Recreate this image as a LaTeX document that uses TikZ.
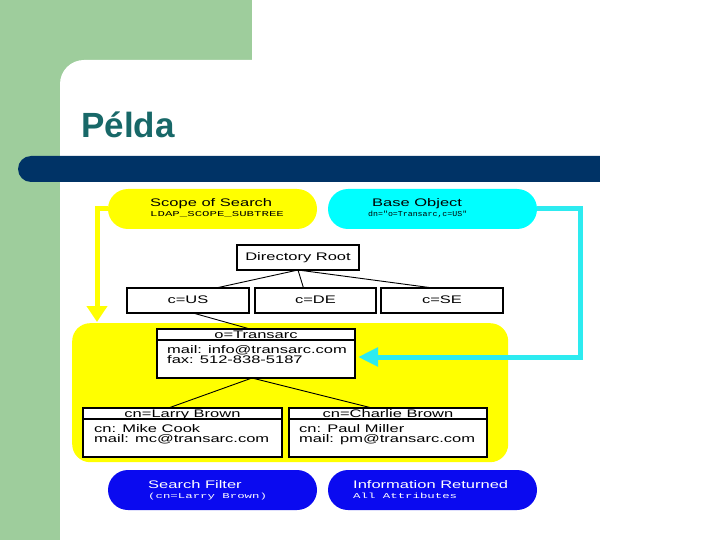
\documentclass[tikz,border=0pt]{standalone}
\usepackage{fontspec}
\setmainfont{Liberation Sans}
\newfontfamily\wsans[FakeStretch=1.5]{Liberation Sans}
\newfontfamily\wmono[FakeStretch=1.65]{Liberation Mono}
\newfontfamily\dnmono[FakeStretch=1.1]{Liberation Mono}
\usetikzlibrary{arrows.meta,calc}
\definecolor{bggreen}{RGB}{158,205,156}
\definecolor{barblue}{RGB}{0,51,102}
\definecolor{titleteal}{RGB}{24,104,104}
\definecolor{pillyellow}{RGB}{255,255,0}
\definecolor{pillcyan}{RGB}{0,255,255}
\definecolor{linecyan}{RGB}{45,235,240}
\definecolor{pillblue}{RGB}{10,10,240}
\begin{document}
\begin{tikzpicture}[x=1pt,y=-1pt,
  pill/.style={rounded corners=20pt, minimum width=209pt, minimum height=40pt,
    anchor=north west, inner sep=0pt, outer sep=0pt},
  ptitle/.style={inner sep=0pt, anchor=base west, font=\wsans\fontsize{11}{12}\selectfont},
  psub/.style={inner sep=0pt, anchor=base west, font=\wmono\fontsize{7.5}{8}\selectfont},
  box/.style={draw, line width=1.2pt, fill=white, anchor=north west, inner sep=0pt,
    outer sep=0pt, font=\wsans\fontsize{11}{12}\selectfont, text height=8pt, text depth=2pt},
  btxt/.style={inner sep=0pt, anchor=base west, font=\wsans\fontsize{11}{12}\selectfont},
  bhdr/.style={inner sep=0pt, anchor=base, font=\wsans\fontsize{11}{12}\selectfont},
  tree/.style={line width=0.9pt},
  yarrow/.style={draw=pillyellow, line width=5pt, -{Triangle[width=20pt,length=16pt]}},
  carrow/.style={draw=linecyan, line width=5pt, -{Triangle[width=18pt,length=20pt]}}
]
\useasboundingbox (0,0) rectangle (720,540);
\fill[white] (0,0) rectangle (720,540);
\fill[bggreen] (0,0) rectangle (252,120);
\fill[bggreen] (0,0) rectangle (60,540);
% white panel with rounded top-left corner
\begin{scope}
  \clip (0,0) rectangle (720,540);
  \fill[white, rounded corners=24pt] (60,60) rectangle (800,620);
\end{scope}
% dark bar
\fill[barblue, rounded corners=13pt] (18,156) rectangle (630,182);
\fill[white] (600,150) rectangle (640,190);
% title
\node[anchor=base west, inner sep=0pt, text=titleteal,
  font=\fontsize{35}{40}\selectfont\bfseries] (title) at (81,138) {Példa};

% yellow area
\node[fill=pillyellow, rounded corners=18pt, minimum width=436pt, minimum height=139pt,
  anchor=north west, inner sep=0pt] (area) at (72,323) {};

% pills
\node[pill, fill=pillyellow] (scope) at (108,189) {};
\node[pill, fill=pillcyan] (base) at (328,189) {};
\node[pill, fill=pillblue] (filter) at (108,470) {};
\node[pill, fill=pillblue] (info) at (328,470) {};

\node[ptitle] (scopet) at ([xshift=42pt,yshift=-18pt]scope.north west) {Scope of Search};
\node[psub] (scopes) at ([xshift=42pt,yshift=-28pt]scope.north west) {LDAP\_SCOPE\_SUBTREE};
\node[ptitle] (baset) at ([xshift=44pt,yshift=-18pt]base.north west) {Base Object};
\node[psub, font=\dnmono\fontsize{7.5}{8}\selectfont] (bases) at ([xshift=40pt,yshift=-28pt]base.north west) {dn="o=Transarc,c=US"};
\node[ptitle, text=white] (filtert) at ([xshift=40pt,yshift=-18pt]filter.north west) {Search Filter};
\node[psub, text=white] (filters) at ([xshift=40pt,yshift=-28pt]filter.north west) {(cn=Larry Brown)};
\node[ptitle, text=white] (infot) at ([xshift=25pt,yshift=-18pt]info.north west) {Information Returned};
\node[psub, text=white] (infos) at ([xshift=25pt,yshift=-28pt]info.north west) {All Attributes};

% connectors from pills
\coordinate (ytip) at (97,322);
\draw[yarrow] (scope.west) -| (ytip);
\coordinate (cturn) at (580,357);
\coordinate (ctip) at (358,357);
\draw[carrow] (base.east) -| (cturn) -- (ctip);

% tree boxes
\node[box, minimum width=122pt, minimum height=25pt] (dr) at (237,245) {Directory Root};
\node[box, minimum width=122pt, minimum height=25pt] (cus) at (127,288) {c=US};
\node[box, minimum width=121pt, minimum height=25pt] (cde) at (255,288) {c=DE};
\node[box, minimum width=122pt, minimum height=25pt] (cse) at (381,288) {c=SE};

\node[box, minimum width=198pt, minimum height=49pt] (tr) at (157,329) {};
\node[box, minimum width=199pt, minimum height=49pt] (lb) at (83,408) {};
\node[box, minimum width=198pt, minimum height=49pt] (cb) at (289,408) {};

\draw[line width=1.2pt] ([yshift=-11pt]tr.north west) -- ([yshift=-11pt]tr.north east);
\draw[line width=1.2pt] ([yshift=-11pt]lb.north west) -- ([yshift=-11pt]lb.north east);
\draw[line width=1.2pt] ([yshift=-11pt]cb.north west) -- ([yshift=-11pt]cb.north east);

\node[bhdr] (trh) at ([yshift=-9.5pt]tr.north) {o=Transarc};
\node[btxt] (tr1) at ([xshift=10pt,yshift=-24pt]tr.north west) {mail: info@transarc.com};
\node[btxt] (tr2) at ([xshift=10pt,yshift=-34pt]tr.north west) {fax: 512-838-5187};

\node[bhdr] (lbh) at ([yshift=-9.5pt]lb.north) {cn=Larry Brown};
\node[btxt] (lb1) at ([xshift=11pt,yshift=-24pt]lb.north west) {cn: Mike Cook};
\node[btxt] (lb2) at ([xshift=11pt,yshift=-34pt]lb.north west) {mail: mc@transarc.com};

\node[bhdr] (cbh) at ([yshift=-9.5pt]cb.north) {cn=Charlie Brown};
\node[btxt] (cb1) at ([xshift=10pt,yshift=-24pt]cb.north west) {cn: Paul Miller};
\node[btxt] (cb2) at ([xshift=10pt,yshift=-34pt]cb.north west) {mail: pm@transarc.com};

% tree lines
\draw[tree] (dr.south) -- ([xshift=28pt]cus.north);
\draw[tree] (dr.south) -- ([xshift=-12pt]cde.north);
\draw[tree] (dr.south) -- ([xshift=-9pt]cse.north);
\draw[tree] ([xshift=5pt]cus.south) -- ([xshift=-6pt]tr.north);
\draw[tree] ([xshift=-4pt]tr.south) -- ([xshift=-14pt]lb.north);
\draw[tree] ([xshift=-4pt]tr.south) -- ([xshift=-16pt]cb.north);
\end{tikzpicture}
\end{document}
